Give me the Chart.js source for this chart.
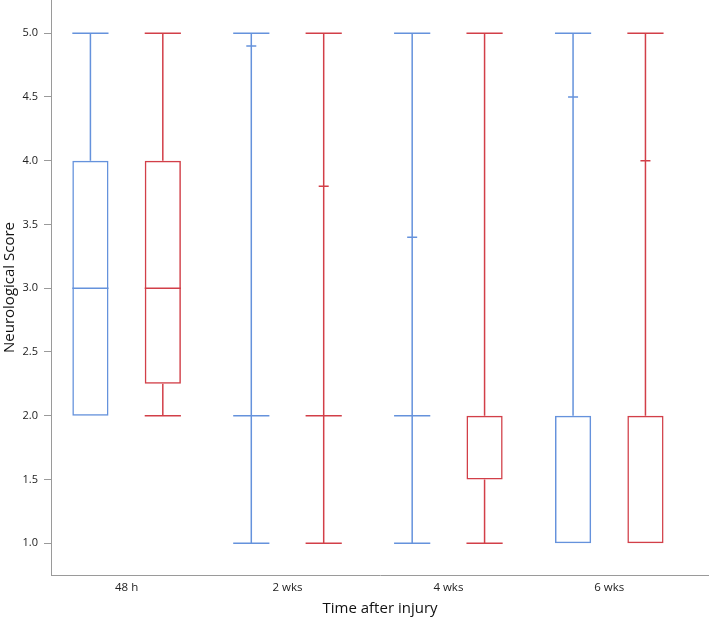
<!DOCTYPE html>
<html>
<head>
<meta charset="utf-8">
<script src="https://cdn.jsdelivr.net/npm/chart.js@4.4.1/dist/chart.umd.min.js"></script>
<style>
    html, body { margin: 0; padding: 0; background: #fff; }
    #wrap { width: 709px; height: 623px; }
</style>
</head>
<body>
<div id="wrap"><canvas id="boxGraph"></canvas></div>
<script>
// categorias e valores
const categories = ['48 h', '2 wks', '4 wks', '6 wks'];
const yTicks = [1.0, 1.5, 2.0, 2.5, 3.0, 3.5, 4.0, 4.5, 5.0];

// serie azul
const blueMin = [2, 1, 1, 1];
const blueQ1 = [2, 2, 2, 1];
const blueMedian = [3, 2, 2, 2];
const blueQ3 = [4, 2, 2, 2];
const blueMax = [5, 5, 5, 5];
const blueMark = [null, 4.9, 3.4, 4.5];

// serie vermelha
const redMin = [2, 1, 1, 1];
const redQ1 = [2.25, 2, 1.5, 1];
const redMedian = [3, 2, 2, 2];
const redQ3 = [4, 2, 2, 2];
const redMax = [5, 5, 5, 5];
const redMark = [null, 3.8, null, 4.0];

const blue = '#6592dc';
const red = '#d23f48';
const font = "'Open Sans', 'DejaVu Sans', sans-serif";

function boxData(q1, q3) {
    return categories.map(function(c, i) {
        return { x: i, y: [q1[i], q3[i]] };
    });
}

const stats = [
    { min: blueMin, median: blueMedian, q1: blueQ1, q3: blueQ3, max: blueMax, mark: blueMark, color: blue },
    { min: redMin, median: redMedian, q1: redQ1, q3: redQ3, max: redMax, mark: redMark, color: red }
];

// desenha bigodes, medianas e marcas pequenas
const whiskerPlugin = {
    id: 'whiskers',
    afterDatasetsDraw(chart) {
        const ctx = chart.ctx;
        const y = chart.scales.y;
        stats.forEach(function(s, d) {
            const meta = chart.getDatasetMeta(d);
            meta.data.forEach(function(el, i) {
                const x = el.x;
                const half = el.width / 2;
                const flat = s.q1[i] === s.q3[i];
                ctx.save();
                ctx.strokeStyle = s.color;
                ctx.lineWidth = 1.5;
                ctx.beginPath();
                // mediana (so se nao coincide com a borda da caixa)
                if (flat || (s.median[i] > s.q1[i] && s.median[i] < s.q3[i])) {
                    ctx.moveTo(x - half, y.getPixelForValue(s.median[i]));
                    ctx.lineTo(x + half, y.getPixelForValue(s.median[i]));
                }
                // bigode superior
                if (s.max[i] > s.q3[i]) {
                    ctx.moveTo(x, y.getPixelForValue(s.q3[i]));
                    ctx.lineTo(x, y.getPixelForValue(s.max[i]));
                    ctx.moveTo(x - half, y.getPixelForValue(s.max[i]));
                    ctx.lineTo(x + half, y.getPixelForValue(s.max[i]));
                }
                // bigode inferior
                if (s.min[i] < s.q1[i]) {
                    ctx.moveTo(x, y.getPixelForValue(s.q1[i]));
                    ctx.lineTo(x, y.getPixelForValue(s.min[i]));
                    ctx.moveTo(x - half, y.getPixelForValue(s.min[i]));
                    ctx.lineTo(x + half, y.getPixelForValue(s.min[i]));
                }
                if (s.mark[i] !== null) {
                    ctx.moveTo(x - 5, y.getPixelForValue(s.mark[i]));
                    ctx.lineTo(x + 5, y.getPixelForValue(s.mark[i]));
                }
                ctx.stroke();
                ctx.restore();
            });
        });
    }
};

let ctx = document.getElementById('boxGraph').getContext('2d');
new Chart(ctx, {
    type: 'bar',
    data: {
        datasets: [{
            label: 'Grupo 1',
            data: boxData(blueQ1, blueQ3),
            backgroundColor: 'rgba(0, 0, 0, 0)',
            borderColor: blue,
            borderWidth: 1.5,
            borderSkipped: false
        }, {
            label: 'Grupo 2',
            data: boxData(redQ1, redQ3),
            backgroundColor: 'rgba(0, 0, 0, 0)',
            borderColor: red,
            borderWidth: 1.5,
            borderSkipped: false
        }]
    },
    options: {
        responsive: true,
        maintainAspectRatio: false,
        animation: false,
        categoryPercentage: 0.9,
        barPercentage: 0.5,
        layout: { padding: 0 },
        plugins: {
            legend: { display: false },
            tooltip: { enabled: false }
        },
        scales: {
            x: {
                type: 'linear',
                offset: false,
                min: -0.47,
                max: 3.62,
                afterBuildTicks: function(scale) {
                    scale.ticks = categories.map(function(c, i) { return { value: i }; });
                },
                afterFit: function(scale) {
                    scale.height = 48;
                    scale.paddingLeft = 0;
                    scale.paddingRight = 0;
                },
                grid: { display: false, drawTicks: false },
                border: { display: true, color: '#9a9a9a', width: 1 },
                ticks: {
                    padding: 6,
                    color: '#222',
                    font: { family: font, size: 11.5 },
                    callback: function(v) { return categories[v]; }
                },
                title: {
                    display: true,
                    text: 'Time after injury',
                    color: '#111',
                    font: { family: font, size: 15 },
                    padding: { top: 6, bottom: 5 }
                }
            },
            y: {
                min: 0.75,
                max: 5.26,
                afterBuildTicks: function(scale) {
                    scale.ticks = yTicks.map(function(v) { return { value: v }; });
                },
                afterFit: function(scale) {
                    scale.width = 51;
                    scale.paddingTop = 0;
                    scale.paddingBottom = 0;
                },
                grid: { drawOnChartArea: false, drawTicks: true, tickLength: 7, color: '#9a9a9a' },
                border: { display: true, color: '#9a9a9a', width: 1 },
                ticks: {
                    padding: 6,
                    color: '#222',
                    font: { family: font, size: 11 },
                    callback: function(v) { return v.toFixed(1); }
                },
                title: {
                    display: true,
                    text: 'Neurological Score',
                    color: '#111',
                    font: { family: font, size: 15 },
                    padding: { top: 1, bottom: 2 }
                }
            }
        }
    },
    plugins: [whiskerPlugin]
});
</script>
</body>
</html>
